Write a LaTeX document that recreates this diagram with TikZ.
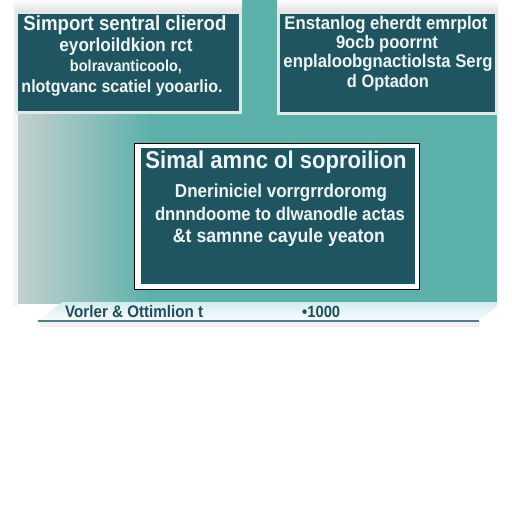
\documentclass[tikz,border=0pt]{standalone}
\usepackage{fontspec}
\setmainfont{Liberation Sans}
\usepackage{graphicx}
\definecolor{tealbg}{HTML}{5DB1AB}
\definecolor{panelgray}{HTML}{C4D0CF}
\definecolor{boxdark}{HTML}{1F5561}
\definecolor{framecol}{HTML}{E2E8E8}
\definecolor{txtcol}{HTML}{EEF4F4}
\definecolor{footcol}{HTML}{1E4E58}
\definecolor{barlight}{HTML}{D3ECEF}
\definecolor{barshadow}{HTML}{4D7F83}
\newcommand{\fitline}[2]{\resizebox{#1pt}{!}{\scalebox{1}[1.1]{\bfseries #2}}}
\tikzset{
  boxtext/.style={text=txtcol, inner sep=0pt, anchor=center},
  foottext/.style={text=footcol, inner sep=0pt, anchor=west},
  topbox/.style={fill=boxdark, draw=framecol, line width=3pt, inner sep=0pt},
}
\begin{document}
\begin{tikzpicture}[x=1pt,y=-1pt]
\useasboundingbox (0,0) rectangle (512,512);
\fill[white] (0,0) rectangle (512,512);
% faint shadow
\fill[black!4] (13,4) rectangle (18,306);
\fill[black!6] (40,321) rectangle (480,327);
% panel
\fill[tealbg] (18,0) rectangle (497,303);
\shade[left color=panelgray, right color=tealbg] (18,114) rectangle (150,303);
% white strips above top boxes
\shade[top color=white, bottom color=black!12] (15,0) rectangle (242,12);
\shade[top color=white, bottom color=black!12] (277,0) rectangle (498,12);
% top boxes
\node[topbox, minimum width=224pt, minimum height=100pt] (lbox) at (128.5,62.5) {};
\node[topbox, minimum width=218pt, minimum height=101pt] (rbox) at (387.5,63) {};
% centre box
\node[fill=white, draw=black, line width=1pt, minimum width=285pt, minimum height=146pt, inner sep=0pt] (cframe) at (276.5,216) {};
\node[fill=boxdark, minimum width=274pt, minimum height=136pt, inner sep=0pt] (cbox) at (278,216) {};
% footer bar
\shade[top color=barlight, bottom color=white!85!barlight] (38,321) -- (62,302) -- (497,302) -- (497,306) -- (479,321) -- cycle;
\draw[barshadow, line width=1.5pt] (38,321) -- (479,321);
% left box text
\node[boxtext] (l1) at (125,25) {\fitline{203}{Simport sentral clierod}};
\node[boxtext] (l2) at (126,47) {\fitline{133}{eyorloildkion rct}};
\node[boxtext] (l3) at (126,67) {\fitline{112}{bolravanticoolo,}};
\node[boxtext] (l4) at (122,88) {\fitline{201}{nlotgvanc scatiel yooarlio.}};
% right box text
\node[boxtext] (r1) at (386,25) {\fitline{203}{Enstanlog eherdt emrplot}};
\node[boxtext] (r2) at (387,44) {\fitline{102}{9ocb poorrnt}};
\node[boxtext] (r3) at (388,63) {\fitline{209}{enplaloobgnactiolsta Serg}};
\node[boxtext] (r4) at (388,83) {\fitline{82}{d Optadon}};
% centre text
\node[boxtext] (c1) at (276,162) {\fitline{261}{Simal amnc ol soproilion}};
\node[boxtext] (c2) at (281,193) {\fitline{212}{Dneriniciel vorrgrrdoromg}};
\node[boxtext] (c3) at (280,214) {\fitline{250}{dnnndoome to dlwanodle actas}};
\node[boxtext] (c4) at (279,237) {\fitline{212}{\&t samnne cayule yeaton}};
% footer text
\node[foottext] (f1) at (65,312) {\fitline{138}{Vorler \& Ottimlion t}};
\node[foottext] (f2) at (302,312) {\fitline{38}{•1000}};
\end{tikzpicture}
\end{document}
